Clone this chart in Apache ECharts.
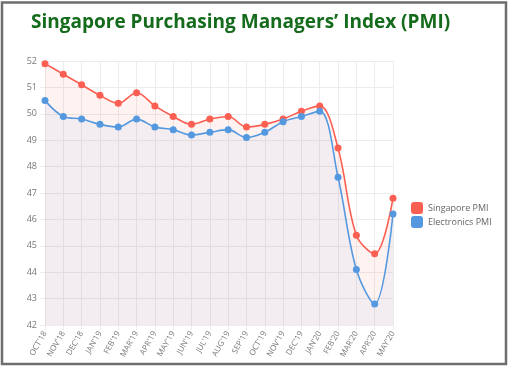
<!DOCTYPE html>
<html>
<head>
<meta charset="utf-8">
<script src="https://cdn.jsdelivr.net/npm/echarts@6/dist/echarts.min.js"></script>
<style>
html,body{margin:0;padding:0;background:#fff;}
#chart{width:510px;height:367px;}
</style>
</head>
<body>
<div id="chart"></div>
<script>
var categories = ["OCT'18","NOV'18","DEC'18","JAN'19","FEB'19","MAR'19","APR'19","MAY'19","JUN'19","JUL'19","AUG'19","SEP'19","OCT'19","NOV'19","DEC'19","JAN'20","FEB'20","MAR'20","APR'20","MAY'20"];
var singaporePMI = [51.9,51.5,51.1,50.7,50.4,50.8,50.3,49.9,49.6,49.8,49.9,49.5,49.6,49.8,50.1,50.3,48.7,45.4,44.7,46.8];
var electronicsPMI = [50.5,49.9,49.8,49.6,49.5,49.8,49.5,49.4,49.2,49.3,49.4,49.1,49.3,49.7,49.9,50.1,47.6,44.1,42.8,46.2];
var yMin = 42, yMax = 52, yInterval = 1;
var titleText = "Singapore Purchasing Managers\u2019 Index (PMI)";

var chart = echarts.init(document.getElementById('chart'));
var gridColor = '#ececec';
chart.setOption({
  animation: false,
  backgroundColor: '#fff',
  title: {
    text: titleText,
    left: 26, top: 8,
    textStyle: {fontFamily: 'Open Sans', fontWeight: 'bold', fontSize: 19, color: '#146b1c'}
  },
  graphic: [{
    type: 'rect', silent: true,
    shape: {x: 2, y: 2.5, width: 504, height: 361.5},
    style: {fill: 'none', stroke: '#6e6e6e', lineWidth: 2.5}
  }],
  legend: {
    orient: 'vertical', left: 406, top: 197,
    itemWidth: 12, itemHeight: 12, itemGap: 2,
    icon: 'roundRect',
    textStyle: {fontFamily: 'Open Sans', fontSize: 9, color: '#666'},
    data: ['Singapore PMI', 'Electronics PMI']
  },
  grid: {left: 45, top: 61, width: 348, height: 264},
  xAxis: {
    type: 'category', data: categories, boundaryGap: false,
    axisLine: {show: true, lineStyle: {color: gridColor}},
    axisTick: {show: true, length: 5, lineStyle: {color: gridColor}},
    splitLine: {show: true, lineStyle: {color: gridColor}},
    axisLabel: {rotate: 60, fontFamily: 'Open Sans', fontSize: 8, color: '#777', margin: 7, interval: 0}
  },
  yAxis: {
    type: 'value', min: yMin, max: yMax, interval: yInterval,
    axisLine: {show: true, lineStyle: {color: gridColor}},
    axisTick: {show: true, length: 5, lineStyle: {color: gridColor}},
    splitLine: {show: true, lineStyle: {color: gridColor}},
    axisLabel: {fontFamily: 'Open Sans', fontSize: 9, color: '#777', margin: 8}
  },
  series: [
    {
      name: 'Singapore PMI', type: 'line', data: singaporePMI, smooth: 0.35,
      symbol: 'circle', symbolSize: 7,
      itemStyle: {color: '#fb5f52'},
      lineStyle: {color: '#fb5f52', width: 1.6},
      areaStyle: {color: 'rgba(255,100,90,0.11)', origin: 'start'}
    },
    {
      name: 'Electronics PMI', type: 'line', data: electronicsPMI, smooth: 0.35,
      symbol: 'circle', symbolSize: 7,
      itemStyle: {color: '#5499e0'},
      lineStyle: {color: '#5499e0', width: 1.6},
      areaStyle: {color: 'rgba(90,160,230,0.1)', origin: 'start'}
    }
  ]
});
</script>
</body>
</html>
